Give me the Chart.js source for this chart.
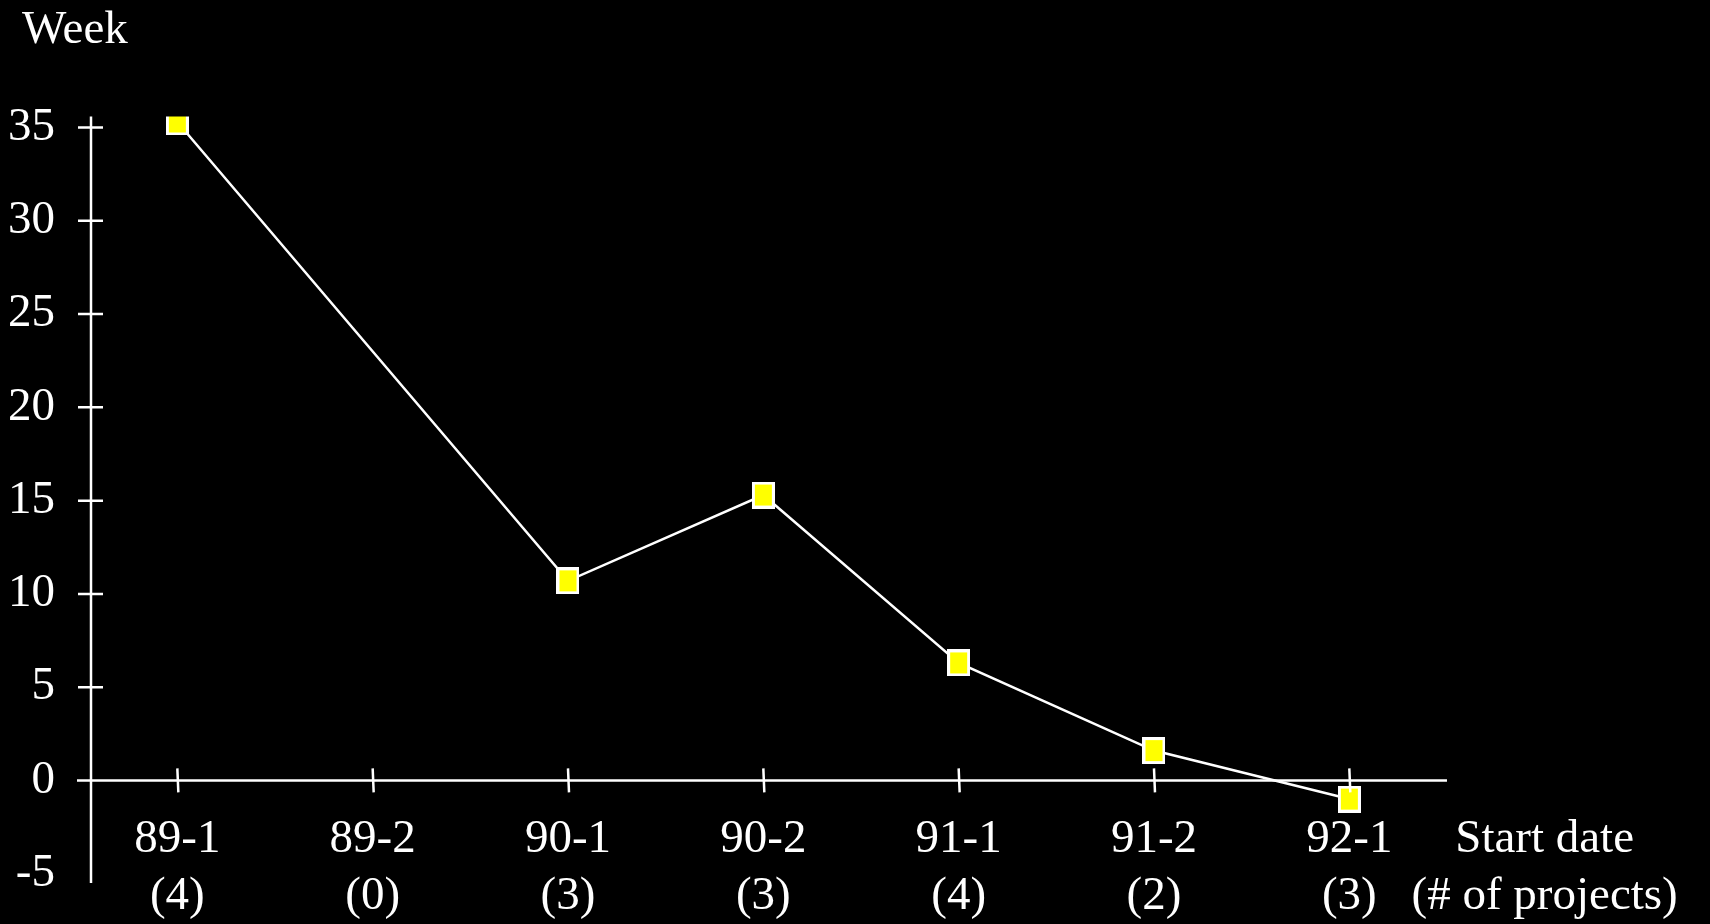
<!DOCTYPE html>
<html>
<head>
<meta charset="utf-8">
<title>Week by start date</title>
<script src="https://cdn.jsdelivr.net/npm/chart.js@4.4.0/dist/chart.umd.min.js"></script>
<style>
  html, body { margin: 0; padding: 0; background: #000; }
  #wrap { width: 1710px; height: 924px; }
</style>
</head>
<body>
<div id="wrap"><canvas id="weekChart"></canvas></div>
<script>
const startDates = ['89-1', '89-2', '90-1', '90-2', '91-1', '91-2', '92-1'];
const projectCounts = ['(4)', '(0)', '(3)', '(3)', '(4)', '(2)', '(3)'];
const weeks = [35.3, null, 10.7, 15.3, 6.3, 1.6, -1.0];
const yTicks = [-5, 0, 5, 10, 15, 20, 25, 30, 35];
const xTitle = ['Start date', '(# of projects)'];

const serif = "'Liberation Serif', 'Times New Roman', serif";
const labelFont = { family: serif, size: 47, lineHeight: 1.23 };

// yellow square marker with a white rim, a bit taller than wide
const marker = document.createElement('canvas');
marker.width = 23;
marker.height = 27;
const mctx = marker.getContext('2d');
mctx.fillStyle = '#ffffff';
mctx.fillRect(0, 0, 23, 27);
mctx.fillStyle = '#ffff00';
mctx.fillRect(3, 3, 17, 21);

// axis lines with ticks that cross them, like the original slide
const crossAxes = {
  id: 'crossAxes',
  afterLayout(chart) {
    // "Week" sits a little right of the tick labels
    chart.titleBlock.left += 13;
  },
  afterDatasetsDraw(chart) {
    const { ctx, chartArea, scales: { x, y } } = chart;
    const y0 = y.getPixelForValue(0);
    const xEnd = x.getPixelForValue(startDates.length - 0.5);
    ctx.save();
    ctx.strokeStyle = '#ffffff';
    ctx.lineWidth = 2.5;
    ctx.beginPath();
    ctx.moveTo(chartArea.left, chartArea.top);
    ctx.lineTo(chartArea.left, chartArea.bottom);
    ctx.moveTo(chartArea.left - 14, y0);
    ctx.lineTo(xEnd, y0);
    yTicks.filter(v => v >= 0).forEach(v => {
      const py = y.getPixelForValue(v);
      ctx.moveTo(chartArea.left - 13, py);
      ctx.lineTo(chartArea.left + 12, py);
    });
    startDates.forEach((d, i) => {
      const px = x.getPixelForValue(i);
      ctx.moveTo(px, y0 - 12);
      ctx.lineTo(px + 1, y0 + 12);
    });
    ctx.stroke();
    ctx.restore();
  }
};

new Chart(document.getElementById('weekChart'), {
  type: 'line',
  data: {
    datasets: [{
      data: weeks.map((v, i) => ({ x: i, y: v })),
      borderColor: '#ffffff',
      borderWidth: 2.5,
      pointStyle: marker,
      pointRadius: 12,
      spanGaps: true,
      tension: 0
    }]
  },
  options: {
    responsive: true,
    maintainAspectRatio: false,
    animation: false,
    layout: { padding: { top: 2, left: 9, right: 30, bottom: 41 } },
    plugins: {
      legend: { display: false },
      tooltip: { enabled: false },
      title: {
        display: true,
        text: 'Week',
        align: 'start',
        color: '#ffffff',
        font: { family: serif, size: 47, weight: 'normal', lineHeight: 1.2 },
        padding: { top: 0, bottom: 58 }
      }
    },
    scales: {
      x: {
        type: 'linear',
        position: { y: 0 },
        min: -0.442,
        max: 7.6,
        afterBuildTicks: s => {
          s.ticks = [...startDates.keys(), startDates.length].map(v => ({ value: v }));
        },
        grid: { display: false, drawTicks: false },
        border: { display: false },
        ticks: {
          color: '#ffffff',
          font: labelFont,
          padding: 30,
          maxRotation: 0,
          autoSkip: false,
          callback: v => v < startDates.length ? [startDates[v], projectCounts[v]] : xTitle
        }
      },
      y: {
        min: -5.5,
        max: 35.6,
        afterBuildTicks: s => {
          s.ticks = yTicks.map(v => ({ value: v }));
        },
        afterFit: s => {
          s.width = 82;
          s.paddingTop = 0;
          s.paddingBottom = 0;
        },
        grid: { display: false, drawTicks: false },
        border: { display: false },
        ticks: { color: '#ffffff', font: labelFont, padding: 36 }
      }
    }
  },
  plugins: [crossAxes]
});
</script>
</body>
</html>
